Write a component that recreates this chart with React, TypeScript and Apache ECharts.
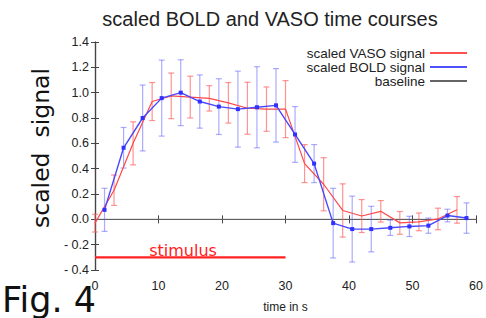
import React, { useEffect, useRef } from "react";
import * as echarts from "echarts";

const vasoT = [0, 3, 6, 9, 12, 15, 18, 21, 24, 27, 30, 33, 36, 39, 42, 45, 48, 51, 54, 57];
const vasoY = [-0.03, 0.23, 0.6, 0.93, 0.975, 0.965, 0.955, 0.92, 0.877, 0.87, 0.87, 0.44, 0.277, 0.07, 0.026, 0.063, -0.028, -0.02, 0.003, 0.075];
const vasoErr = [0.07, 0.12, 0.17, 0.15, 0.18, 0.165, 0.1, 0.16, 0.205, 0.175, 0.225, 0.15, 0.21, 0.21, 0.13, 0.085, 0.09, 0.07, 0.085, 0.105];

const boldT = [1.5, 4.5, 7.5, 10.5, 13.5, 16.5, 19.5, 22.5, 25.5, 28.5, 31.5, 34.5, 37.5, 40.5, 43.5, 46.5, 49.5, 52.5, 55.5, 58.5];
const boldY = [0.075, 0.565, 0.8, 0.957, 1.0, 0.93, 0.89, 0.87, 0.885, 0.9, 0.67, 0.44, -0.03, -0.077, -0.077, -0.067, -0.056, -0.05, 0.03, 0.01];
const boldErr = [0.17, 0.16, 0.26, 0.3, 0.26, 0.21, 0.22, 0.3, 0.32, 0.29, 0.22, 0.15, 0.275, 0.26, 0.18, 0.06, 0.08, 0.06, 0.05, 0.12];

const stimulusRange = [0, 30];
const stimulusLevel = -0.3;
const baselineRange = [0, 60];
const baselineLevel = 0;

const xTicks = { min: 0, max: 60, interval: 10 };
const yTicks = { min: -0.4, max: 1.4, interval: 0.2 };

function errorSeries(name: string, t: number[], y: number[], e: number[], color: string) {
  return {
    type: "custom",
    name: name + " err",
    silent: true,
    z: 2,
    data: t.map((x, i) => [x, y[i] - e[i], y[i] + e[i]]),
    renderItem: (params: any, api: any) => {
      const lo = api.coord([api.value(0), api.value(1)]);
      const hi = api.coord([api.value(0), api.value(2)]);
      const cw = 3;
      const style = { stroke: color, lineWidth: 1.2 };
      return {
        type: "group",
        children: [
          { type: "line", shape: { x1: lo[0], y1: lo[1], x2: hi[0], y2: hi[1] }, style },
          { type: "line", shape: { x1: lo[0] - cw, y1: lo[1], x2: lo[0] + cw, y2: lo[1] }, style },
          { type: "line", shape: { x1: hi[0] - cw, y1: hi[1], x2: hi[0] + cw, y2: hi[1] }, style },
        ],
      };
    },
  };
}

export default function App() {
  const ref = useRef<HTMLDivElement>(null);
  useEffect(() => {
    const chart = echarts.init(ref.current!, null, { renderer: "svg" });
    const axisColor = "#444";
    const labelFont = "'Liberation Sans', Arial, sans-serif";
    chart.setOption({
      animation: false,
      backgroundColor: "#fff",
      title: {
        text: "scaled BOLD and VASO time courses",
        left: 270,
        textAlign: "center",
        top: 9,
        padding: 0,
        textStyle: { fontFamily: labelFont, fontSize: 20, fontWeight: "normal", color: "#222" },
      },
      grid: { left: 95, right: 7, top: 42, bottom: 44, containLabel: false },
      legend: {
        orient: "vertical",
        align: "right",
        right: 19,
        top: 46,
        padding: 0,
        itemWidth: 37,
        itemHeight: 2,
        itemGap: 0,
        icon: "rect",
        textStyle: { fontFamily: labelFont, fontSize: 13.5, color: "#222", lineHeight: 14 },
        data: [
          { name: "scaled VASO signal", itemStyle: { color: "#ff5050" } },
          { name: "scaled BOLD signal", itemStyle: { color: "#5050ff" } },
          { name: "baseline", itemStyle: { color: "#666" } },
        ],
      },
      xAxis: [
        {
          type: "value",
          ...xTicks,
          name: "time in s",
          nameLocation: "middle",
          nameGap: 31,
          nameTextStyle: { fontFamily: labelFont, fontSize: 12, color: "#222" },
          axisLine: { show: true, lineStyle: { color: axisColor, width: 1.2 } },
          axisTick: { show: true, inside: true, length: 4, lineStyle: { color: axisColor } },
          axisLabel: { fontFamily: labelFont, fontSize: 12.5, color: "#222", margin: 9 },
          splitLine: { show: false },
        },
        {
          type: "value",
          ...xTicks,
          position: "top",
          axisLine: { show: true, lineStyle: { color: axisColor, width: 1.2 } },
          axisTick: { show: true, inside: true, length: 4, lineStyle: { color: axisColor } },
          axisLabel: { show: false },
          splitLine: { show: false },
        },
      ],
      yAxis: [
        {
          type: "value",
          ...yTicks,
          axisLine: { show: true, lineStyle: { color: axisColor, width: 1.2 } },
          axisTick: { show: true, inside: true, length: 4, lineStyle: { color: axisColor } },
          axisLabel: {
            fontFamily: labelFont,
            fontSize: 12.5,
            color: "#222",
            margin: 6,
            formatter: (v: number) => (v < 0 ? "- " + Math.abs(v).toFixed(1) : v.toFixed(1)),
          },
          splitLine: { show: false },
        },
        {
          type: "value",
          ...yTicks,
          position: "right",
          axisLine: { show: true, lineStyle: { color: axisColor, width: 1.2 } },
          axisTick: { show: true, inside: true, length: 4, lineStyle: { color: axisColor } },
          axisLabel: { show: false },
          splitLine: { show: false },
        },
      ],
      series: [
        {
          type: "line",
          name: "baseline",
          data: baselineRange.map((x) => [x, baselineLevel]),
          symbol: "none",
          lineStyle: { color: "#666", width: 1 },
          z: 1,
        },
        {
          type: "line",
          name: "stimulus",
          data: stimulusRange.map((x) => [x, stimulusLevel]),
          symbol: "none",
          lineStyle: { color: "#ff2020", width: 2.2 },
          z: 3,
        },
        errorSeries("vaso", vasoT, vasoY, vasoErr, "rgba(255,90,90,0.65)"),
        errorSeries("bold", boldT, boldY, boldErr, "rgba(90,90,255,0.5)"),
        {
          type: "line",
          name: "scaled VASO signal",
          data: vasoT.map((x, i) => [x, vasoY[i]]),
          symbol: "none",
          lineStyle: { color: "#ff4848", width: 1.2 },
          itemStyle: { color: "#ff4848" },
          z: 4,
        },
        {
          type: "line",
          name: "scaled BOLD signal",
          data: boldT.map((x, i) => [x, boldY[i]]),
          symbol: "rect",
          symbolSize: 4,
          lineStyle: { color: "#4848ff", width: 1.4 },
          itemStyle: { color: "#3030ff" },
          z: 5,
        },
      ],
      graphic: [
        {
          type: "text",
          x: 183,
          y: 250,
          style: {
            text: "stimulus",
            fill: "#ff2020",
            font: "16px 'DejaVu Sans'",
            textAlign: "center",
            textVerticalAlign: "middle",
          },
        },
        {
          type: "text",
          x: 41,
          y: 148,
          rotation: Math.PI / 2,
          style: {
            text: "scaled  signal",
            fill: "#111",
            font: "23.5px 'DejaVu Sans'",
            textAlign: "center",
            textVerticalAlign: "middle",
          },
        },
        {
          type: "text",
          x: 2,
          y: 300,
          style: {
            text: "Fig. 4",
            fill: "#111",
            font: "35px 'DejaVu Sans'",
            textAlign: "left",
            textVerticalAlign: "middle",
          },
        },
      ],
    });
    return () => chart.dispose();
  }, []);
  return <div ref={ref} style={{ width: 486, height: 318, position: "absolute", left: 0, top: 0 }} />;
}
